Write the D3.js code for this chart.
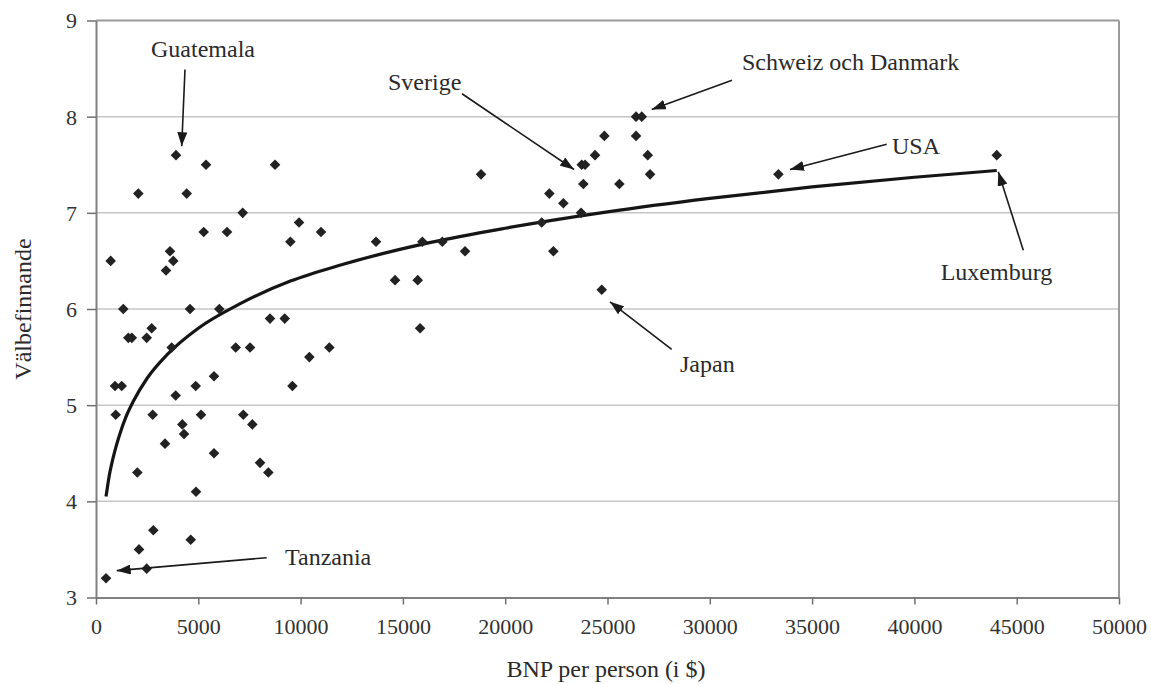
<!DOCTYPE html>
<html><head><meta charset="utf-8">
<script src="https://cdn.jsdelivr.net/npm/d3@7"></script>
<style>body{margin:0;background:#fff}</style>
</head><body><svg id="c" width="1151" height="684"></svg>
<script>
// ---- data ----
const bnp = [489, 718, 963, 929, 1256, 1334, 1580, 1750, 2478, 2068, 2020, 2102, 2478, 2722, 2802, 2771,
  3373, 3422, 3617, 3778, 3700, 3910, 3894, 4220, 4302, 4433, 4595, 4630, 4873, 4888, 5133, 5377, 5264,
  5768, 5768, 6027, 6403, 6829, 7170, 7200, 7528, 7642, 8017, 8423, 8505, 8750, 9224, 9500, 9923, 9600,
  10428, 10998, 11405, 13686, 14616, 15724, 15840, 15951, 16927, 18037, 18819, 21785, 22158, 22355,
  22843, 23707, 23740, 23903, 23821, 24391, 24718, 24847, 25580, 26395, 26395, 26674, 26967, 27080,
  33353, 44026];
const valbefinnande = [3.2, 6.5, 4.9, 5.2, 5.2, 6.0, 5.7, 5.7, 5.7, 7.2, 4.3, 3.5, 3.3, 5.8, 3.7, 4.9,
  4.6, 6.4, 6.6, 6.5, 5.6, 7.6, 5.1, 4.8, 4.7, 7.2, 6.0, 3.6, 5.2, 4.1, 4.9, 7.5, 6.8,
  5.3, 4.5, 6.0, 6.8, 5.6, 7.0, 4.9, 5.6, 4.8, 4.4, 4.3, 5.9, 7.5, 5.9, 6.7, 6.9, 5.2,
  5.5, 6.8, 5.6, 6.7, 6.3, 6.3, 5.8, 6.7, 6.7, 6.6, 7.4, 6.9, 7.2, 6.6,
  7.1, 7.0, 7.5, 7.5, 7.3, 7.6, 6.2, 7.8, 7.3, 7.8, 8.0, 8.0, 7.6, 7.4,
  7.4, 7.6];

// trend curve
const trendBnp   = [489, 560, 650, 767, 929, 1150, 1450, 1825, 2500, 3500, 5000, 7000, 9500, 12000, 16300, 20000, 25000, 30000, 35000, 40000, 44026];
const trendValue = [4.05, 4.15, 4.27, 4.39, 4.53, 4.69, 4.87, 5.04, 5.28, 5.53, 5.80, 6.05, 6.29, 6.46, 6.69, 6.84, 7.01, 7.15, 7.27, 7.37, 7.44];

const xTicks = [0, 5000, 10000, 15000, 20000, 25000, 30000, 35000, 40000, 45000, 50000];
const yTicks = [3, 4, 5, 6, 7, 8, 9];

// annotations (data units)
const labelNames  = ["Guatemala", "Sverige", "Schweiz och Danmark", "USA", "Luxemburg", "Japan", "Tanzania"];
const labelX      = [5230, 14272, 31574, 38906, 41286, 28544, 9238];
const labelY      = [8.617, 8.275, 8.483, 7.610, 6.300, 5.345, 3.338];
const labelAnchor = ["middle", "start", "start", "start", "start", "start", "start"];
const arrowFromX  = [4350, 17889, 31085, 38645, 45322, 28138, 8343];
const arrowFromY  = [8.49, 8.238, 8.379, 7.714, 6.612, 5.580, 3.414];
const arrowToX    = [4189, 23363, 27161, 33920, 44100, 25122, 1012];
const arrowToY    = [7.693, 7.451, 8.075, 7.451, 7.426, 6.075, 3.279];

// ---- drawing ----
const svg = d3.select("#c");
const font = "'Liberation Serif', 'Times New Roman', serif";
const L = 96, R = 1119, T = 20.5, B = 597.5;
const x = d3.scaleLinear().domain([0, 50000]).range([L, R]);
const y = d3.scaleLinear().domain([3, 9]).range([B, T]);

// gridlines
svg.append("g").selectAll("line").data(yTicks.filter(d => d > 3 && d < 9)).join("line")
  .attr("x1", L).attr("x2", R).attr("y1", d => y(d)).attr("y2", d => y(d))
  .attr("stroke", "#c6c6c6").attr("stroke-width", 1.5);

// frame top / right
svg.append("line").attr("x1", L).attr("x2", R).attr("y1", T).attr("y2", T).attr("stroke", "#9a9a9a").attr("stroke-width", 2);
svg.append("line").attr("x1", R).attr("x2", R).attr("y1", T).attr("y2", B).attr("stroke", "#9a9a9a").attr("stroke-width", 2);

// axes
const xAxis = svg.append("g").attr("transform", `translate(0,${B})`)
  .call(d3.axisBottom(x).tickValues(xTicks).tickFormat(d3.format("d")).tickSize(7).tickSizeOuter(0));
xAxis.selectAll("text").attr("y", 36).attr("dy", 0);
const yAxis = svg.append("g").attr("transform", `translate(${L},0)`)
  .call(d3.axisLeft(y).tickValues(yTicks).tickFormat(d3.format("d")).tickSize(9).tickSizeOuter(0));
yAxis.selectAll("text").attr("x", -19).attr("dy", "0.34em");
[xAxis, yAxis].forEach(g => {
  g.select(".domain").attr("stroke", "#808080").attr("stroke-width", 2);
  g.selectAll(".tick line").attr("stroke", "#707070").attr("stroke-width", 1.5);
  g.selectAll("text").attr("font-family", font).attr("font-size", 22).attr("fill", "#333");
});

// trend curve
const pts = trendBnp.map((d, i) => [d, trendValue[i]]);
svg.append("path").datum(pts)
  .attr("d", d3.line().x(d => x(d[0])).y(d => y(d[1])).curve(d3.curveMonotoneX))
  .attr("fill", "none").attr("stroke", "#151515").attr("stroke-width", 3.2);

// points (diamonds)
const diamond = "M0,-5.3L5.3,0L0,5.3L-5.3,0Z";
svg.append("g").selectAll("path").data(bnp.map((d, i) => [d, valbefinnande[i]])).join("path")
  .attr("d", diamond)
  .attr("transform", d => `translate(${x(d[0])},${y(d[1])})`)
  .attr("fill", "#222");

// arrows
svg.append("defs").append("marker").attr("id", "ah")
  .attr("viewBox", "0 0 14 10").attr("refX", 14).attr("refY", 5)
  .attr("markerWidth", 14).attr("markerHeight", 10).attr("markerUnits", "userSpaceOnUse")
  .attr("orient", "auto")
  .append("path").attr("d", "M0,0L14,5L0,10Z").attr("fill", "#1a1a1a");

svg.append("g").selectAll("line").data(labelNames).join("line")
  .attr("x1", (d, i) => x(arrowFromX[i])).attr("y1", (d, i) => y(arrowFromY[i]))
  .attr("x2", (d, i) => x(arrowToX[i])).attr("y2", (d, i) => y(arrowToY[i]))
  .attr("stroke", "#1a1a1a").attr("stroke-width", 1.6).attr("marker-end", "url(#ah)");

svg.append("g").selectAll("text").data(labelNames).join("text")
  .attr("x", (d, i) => x(labelX[i])).attr("y", (d, i) => y(labelY[i]))
  .attr("text-anchor", (d, i) => labelAnchor[i])
  .attr("font-family", font).attr("font-size", 24).attr("fill", "#2a2a2a")
  .text(d => d);

// axis titles
svg.append("text").attr("x", 606).attr("y", 677).attr("text-anchor", "middle")
  .attr("font-family", font).attr("font-size", 24).attr("fill", "#2a2a2a")
  .text("BNP per person (i $)");
svg.append("text").attr("transform", "translate(31,309) rotate(-90)").attr("text-anchor", "middle")
  .attr("font-family", font).attr("font-size", 24).attr("fill", "#2a2a2a")
  .text("Välbefinnande");
</script></body></html>
